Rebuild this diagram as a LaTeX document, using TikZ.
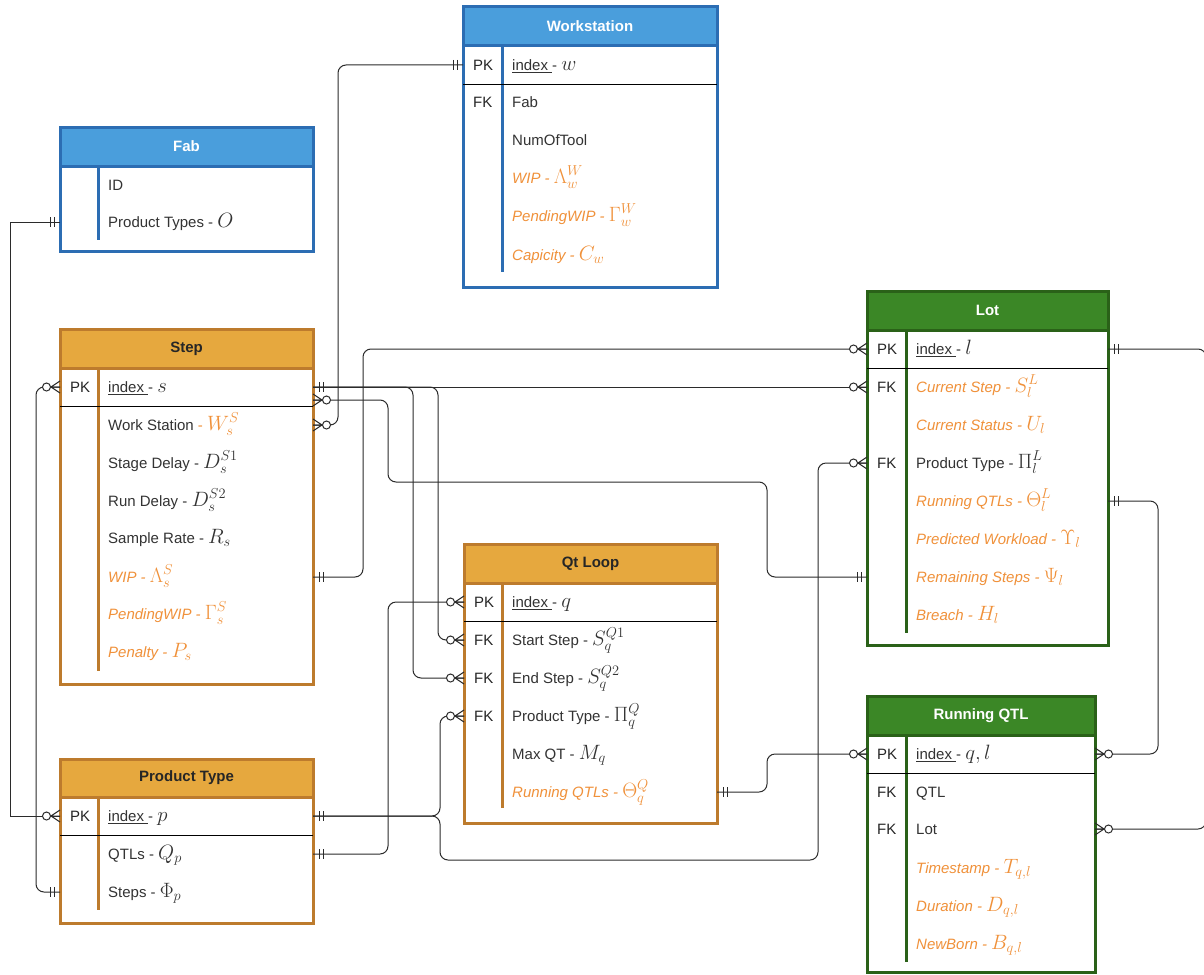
\documentclass[tikz,border=0pt]{standalone}
\usepackage{fontspec}
\setmainfont{Liberation Sans}
\definecolor{bluefill}{HTML}{4A9EDC}
\definecolor{blueline}{HTML}{2C6DB3}
\definecolor{orfill}{HTML}{E6A83E}
\definecolor{orline}{HTML}{BD7B2D}
\definecolor{grfill}{HTML}{3B8726}
\definecolor{grline}{HTML}{2A6118}
\definecolor{attr}{HTML}{F0913A}
\definecolor{txt}{HTML}{333333}
\definecolor{lc}{HTML}{2B2B2B}
\newcommand\mth[1]{{\fontsize{20}{20}\selectfont$#1$}}
\newcommand\lblfont{\fontsize{15}{18}\selectfont}
\newcommand\hdrfont{\fontsize{15}{18}\selectfont\bfseries}
\tikzset{
  conn/.style={draw=lc, line width=1pt, rounded corners=8pt},
  lbl/.style={anchor=west, inner sep=0pt, text height=11pt, text depth=0pt, font=\lblfont, text=txt},
  key/.style={lbl, text=black!85},
  att/.style={lbl, text=attr, font=\lblfont\itshape},
  tbl/.style={draw, line width=3pt, fill=white, anchor=north west, inner sep=0pt, outer sep=0pt},
  hdr/.style={draw, line width=3pt, anchor=north west, inner sep=0pt, outer sep=0pt, font=\hdrfont},
  divider/.style={line width=3pt},
  pkline/.style={draw=black, line width=1pt},
  mkone/.pic={\draw[lc, line width=1pt] (6,-5) -- (6,5) (10,-5) -- (10,5);},
  mkmany/.pic={\draw[lc, line width=1pt] (0,-6) -- (9,0) -- (0,6) (0,0) -- (9,0);
               \draw[lc, line width=1pt, fill=white] (13.5,0) circle[radius=4pt];}
}
\begin{document}
\begin{tikzpicture}[x=1pt,y=-1pt]
\useasboundingbox (0,0) rectangle (1204,974);
\fill[white] (0,0) rectangle (1204,974);

% ---------------- Workstation
\node[tbl, draw=blueline, minimum width=254pt, minimum height=280pt] (ws) at (463,7) {};
\node[hdr, fill=bluefill, draw=blueline, text=white, minimum width=254pt, minimum height=39pt] (wsh) at (463,7) {Workstation};
\draw[blueline, divider] (502,46) -- (502,272);
\draw[pkline] (463,84) -- (717,84);
\node[key] (wspkk) at (473,65) {PK};
\node[lbl] (wspk) at (512,65) {\underline{index~}- \mth{w}};
\node[key] (wsfkk) at (473,102) {FK};
\node[lbl] (wsfab) at (512,102) {Fab};
\node[lbl] (wsnum) at (512,140) {NumOfTool};
\node[att] (wswip) at (512,178) {WIP - \mth{\Lambda_w^W}};
\node[att] (wspend) at (512,216) {PendingWIP - \mth{\Gamma_w^W}};
\node[att] (wscap) at (512,255) {Capicity - \mth{C_w}};

% ---------------- Fab
\node[tbl, draw=blueline, minimum width=253pt, minimum height=124pt] (fab) at (60,127) {};
\node[hdr, fill=bluefill, draw=blueline, text=white, minimum width=253pt, minimum height=39pt] (fabh) at (60,127) {Fab};
\draw[blueline, divider] (98,166) -- (98,240);
\node[lbl] (fabid) at (108,185) {ID};
\node[lbl] (fabpt) at (108,222) {Product Types - \mth{O}};

% ---------------- Step
\node[tbl, draw=orline, minimum width=253pt, minimum height=355pt] (step) at (60,329) {};
\node[hdr, fill=orfill, draw=orline, text=black!85, minimum width=253pt, minimum height=39pt] (steph) at (60,329) {Step};
\draw[orline, divider] (98,368) -- (98,671);
\draw[pkline] (60,406) -- (313,406);
\node[key] (steppkk) at (70,387) {PK};
\node[lbl] (steppk) at (108,387) {\underline{index~}- \mth{s}};
\node[lbl] (stepws) at (108,425) {Work Station {\color{attr} - \mth{W_s^S}}};
\node[lbl] (stepsd) at (108,463) {Stage Delay - \mth{D_s^{S1}}};
\node[lbl] (steprd) at (108,501) {Run Delay - \mth{D_s^{S2}}};
\node[lbl] (stepsr) at (108,538) {Sample Rate - \mth{R_s}};
\node[att] (stepwip) at (108,577) {WIP - \mth{\Lambda_s^S}};
\node[att] (steppend) at (108,614) {PendingWIP - \mth{\Gamma_s^S}};
\node[att] (steppen) at (108,652) {Penalty - \mth{P_s}};

% ---------------- Product Type
\node[tbl, draw=orline, minimum width=253pt, minimum height=164pt] (pt) at (60,759) {};
\node[hdr, fill=orfill, draw=orline, text=black!85, minimum width=253pt, minimum height=38pt] (pth) at (60,759) {Product Type};
\draw[orline, divider] (98,797) -- (98,910);
\draw[pkline] (60,835) -- (313,835);
\node[key] (ptpkk) at (70,816) {PK};
\node[lbl] (ptpk) at (108,816) {\underline{index~}- \mth{p}};
\node[lbl] (ptqtls) at (108,854) {QTLs - \mth{Q_p}};
\node[lbl] (ptsteps) at (108,892) {Steps - \mth{\Phi_p}};

% ---------------- Qt Loop
\node[tbl, draw=orline, minimum width=253pt, minimum height=279pt] (qt) at (464,544) {};
\node[hdr, fill=orfill, draw=orline, text=black!85, minimum width=253pt, minimum height=39pt] (qth) at (464,544) {Qt Loop};
\draw[orline, divider] (502,583) -- (502,808);
\draw[pkline] (464,621) -- (717,621);
\node[key] (qtpkk) at (474,602) {PK};
\node[lbl] (qtpk) at (512,602) {\underline{index~}- \mth{q}};
\node[key] (qtfk1) at (474,640) {FK};
\node[lbl] (qtstart) at (512,640) {Start Step - \mth{S_q^{Q1}}};
\node[key] (qtfk2) at (474,678) {FK};
\node[lbl] (qtend) at (512,678) {End Step - \mth{S_q^{Q2}}};
\node[key] (qtfk3) at (474,716) {FK};
\node[lbl] (qtpt) at (512,716) {Product Type - \mth{\Pi_q^Q}};
\node[lbl] (qtmax) at (512,754) {Max QT - \mth{M_q}};
\node[att] (qtrq) at (512,792) {Running QTLs - \mth{\Theta_q^Q}};

% ---------------- Lot
\node[tbl, draw=grline, minimum width=241pt, minimum height=354pt] (lot) at (867,291) {};
\node[hdr, fill=grfill, draw=grline, text=white, minimum width=241pt, minimum height=39pt] (loth) at (867,291) {Lot};
\draw[grline, divider] (906,330) -- (906,633);
\draw[pkline] (867,368) -- (1108,368);
\node[key] (lotpkk) at (877,349) {PK};
\node[lbl] (lotpk) at (916,349) {\underline{index~}- \mth{l}};
\node[key] (lotfk1) at (877,387) {FK};
\node[att] (lotcs) at (916,387) {Current Step - \mth{S_l^L}};
\node[att] (lotst) at (916,425) {Current Status - \mth{U_l}};
\node[key] (lotfk2) at (877,463) {FK};
\node[lbl] (lotpt) at (916,463) {Product Type - \mth{\Pi_l^L}};
\node[att] (lotrq) at (916,501) {Running QTLs - \mth{\Theta_l^L}};
\node[att] (lotpw) at (916,539) {Predicted Workload - \mth{\Upsilon_l}};
\node[att] (lotrs) at (916,577) {Remaining Steps - \mth{\Psi_l}};
\node[att] (lotbr) at (916,615) {Breach - \mth{H_l}};

% ---------------- Running QTL
\node[tbl, draw=grline, minimum width=228pt, minimum height=276pt] (rq) at (867,696) {};
\node[hdr, fill=grfill, draw=grline, text=white, minimum width=228pt, minimum height=39pt] (rqh) at (867,696) {Running QTL};
\draw[grline, divider] (906,735) -- (906,962);
\draw[pkline] (867,773) -- (1095,773);
\node[key] (rqpkk) at (877,754) {PK};
\node[lbl] (rqpk) at (916,754) {\underline{index~}- \mth{q,l}};
\node[key] (rqfk1) at (877,792) {FK};
\node[lbl] (rqqtl) at (916,792) {QTL};
\node[key] (rqfk2) at (877,829) {FK};
\node[lbl] (rqlot) at (916,829) {Lot};
\node[att] (rqts) at (916,868) {Timestamp - \mth{T_{q,l}}};
\node[att] (rqdu) at (916,906) {Duration - \mth{D_{q,l}}};
\node[att] (rqnb) at (916,944) {NewBorn - \mth{B_{q,l}}};

% ---------------- connectors
\coordinate (stepfk) at (313,400);
\draw[conn] (ws.west|-wspk) -- (338,65) |- (step.east|-stepws);
\draw[conn, sharp corners] (fab.west|-fabpt) -- (10,222) |- (pt.west|-ptpk);
\draw[conn] (step.west|-steppk) -- (36,387) |- (pt.west|-ptsteps);
\draw[conn] (step.east|-stepwip) -- (363,577) |- (lot.west|-lotpk);
\draw[conn] (step.east|-steppk) -- (lot.west|-lotcs);
\draw[conn] (step.east|-steppk) -- (413,387) |- (qt.west|-qtend);
\draw[conn] (step.east|-steppk) -- (438,387) |- (qt.west|-qtstart);
\draw[conn] (stepfk) -- (388,400) -- (388,482) -- (767,482) |- (lot.west|-lotrs);
\draw[conn] (lot.west|-lotpt) -- (818,463) -- (818,860) -- (440,860) -- (440,816) -- (pt.east|-ptpk);
\draw[conn] (pt.east|-ptpk) -- (440,816) |- (qt.west|-qtpt);
\draw[conn] (pt.east|-ptqtls) -- (388,854) |- (qt.west|-qtpk);
\draw[conn] (qt.east|-qtrq) -- (767,792) |- (rq.west|-rqpk);
\draw[conn] (lot.east|-lotrq) -- (1158,501) |- (rq.east|-rqpk);
\draw[conn] (lot.east|-lotpk) -- (1206,349) |- (rq.east|-rqlot);

% ---------------- end markers
\pic[xscale=-1] at (ws.west|-wspk) {mkone};
\pic at (step.east|-stepws) {mkmany};
\pic[xscale=-1] at (fab.west|-fabpt) {mkone};
\pic[xscale=-1] at (pt.west|-ptpk) {mkmany};
\pic[xscale=-1] at (step.west|-steppk) {mkmany};
\pic[xscale=-1] at (pt.west|-ptsteps) {mkone};
\pic at (step.east|-stepwip) {mkone};
\pic[xscale=-1] at (lot.west|-lotpk) {mkmany};
\pic at (step.east|-steppk) {mkone};
\pic[xscale=-1] at (lot.west|-lotcs) {mkmany};
\pic[xscale=-1] at (qt.west|-qtend) {mkmany};
\pic[xscale=-1] at (qt.west|-qtstart) {mkmany};
\pic at (stepfk) {mkmany};
\pic[xscale=-1] at (lot.west|-lotrs) {mkone};
\pic[xscale=-1] at (lot.west|-lotpt) {mkmany};
\pic at (pt.east|-ptpk) {mkone};
\pic[xscale=-1] at (qt.west|-qtpt) {mkmany};
\pic at (pt.east|-ptqtls) {mkone};
\pic[xscale=-1] at (qt.west|-qtpk) {mkmany};
\pic at (qt.east|-qtrq) {mkone};
\pic[xscale=-1] at (rq.west|-rqpk) {mkmany};
\pic at (lot.east|-lotrq) {mkone};
\pic at (rq.east|-rqpk) {mkmany};
\pic at (lot.east|-lotpk) {mkone};
\pic at (rq.east|-rqlot) {mkmany};
\end{tikzpicture}
\end{document}
